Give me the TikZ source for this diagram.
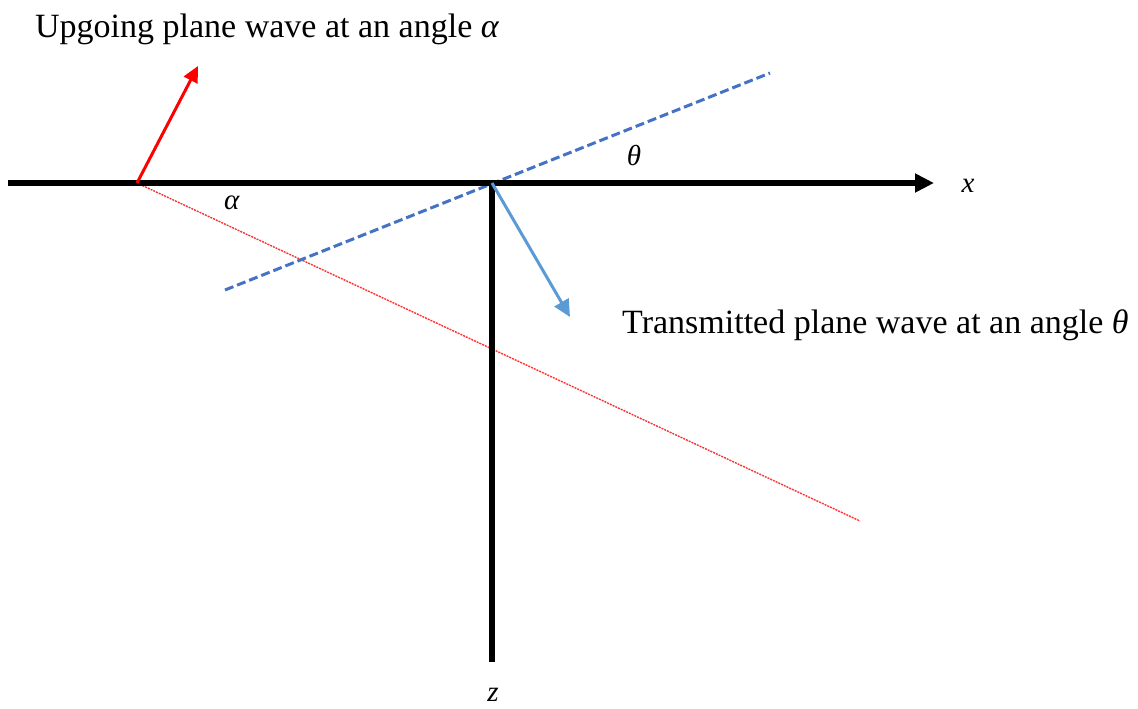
\documentclass[tikz,border=0pt]{standalone}
\usepackage{fontspec}
\setmainfont{Liberation Serif}
\usetikzlibrary{arrows.meta}
\definecolor{dashblue}{RGB}{68,114,196}
\definecolor{arrblue}{RGB}{91,155,213}
\begin{document}
\begin{tikzpicture}[x=1pt,y=-1pt,
  axis/.style={line width=5.2pt,black},
  lbl/.style={font=\fontsize{29}{34}\selectfont,inner sep=0pt},
  big/.style={font=\fontsize{34}{40}\selectfont,inner sep=0pt},
  redarrow/.style={red,line width=3pt,-{Triangle[length=16pt,width=15pt]}},
  bluearrow/.style={arrblue,line width=3pt,-{Triangle[length=17pt,width=16pt]}},
  bluedash/.style={dashblue,line width=3pt,dash pattern=on 9pt off 4pt},
  reddot/.style={red!80,line width=1.4pt,dash pattern=on 2pt off 1pt}]
\useasboundingbox (0,0) rectangle (1138,709);
\coordinate (xl) at (8,183);
\coordinate (xr) at (934,183);
\coordinate (o) at (492,183);
\coordinate (zb) at (492,662);
\coordinate (r0) at (137,183);
\coordinate (rt) at (198,66);
\coordinate (re) at (860,521);
\coordinate (b1) at (225,290);
\coordinate (b2) at (770,73);
\coordinate (bt) at (570,317);
\draw[reddot] (r0) -- (re);
\draw[bluedash] (b1) -- (b2);
\draw[axis,-{Triangle[length=19pt,width=18pt]}] (xl) -- (xr);
\draw[axis,line cap=butt] (o) -- (zb);
\draw[redarrow] (r0) -- (rt);
\draw[bluearrow] (o) -- (bt);
\node[big,anchor=base west] (t1) at (35,38) {Upgoing plane wave at an angle \textit{α}};
\node[big,anchor=base west] (t2) at (622,333) {Transmitted plane wave at an angle \textit{θ}};
\node[lbl] (a) at (232,203) {\textit{α}};
\node[lbl] (th) at (634,156) {\textit{θ}};
\node[lbl] (xlab) at (968,186) {\textit{x}};
\node[lbl] (zlab) at (493,695) {\textit{z}};
\end{tikzpicture}
\end{document}
